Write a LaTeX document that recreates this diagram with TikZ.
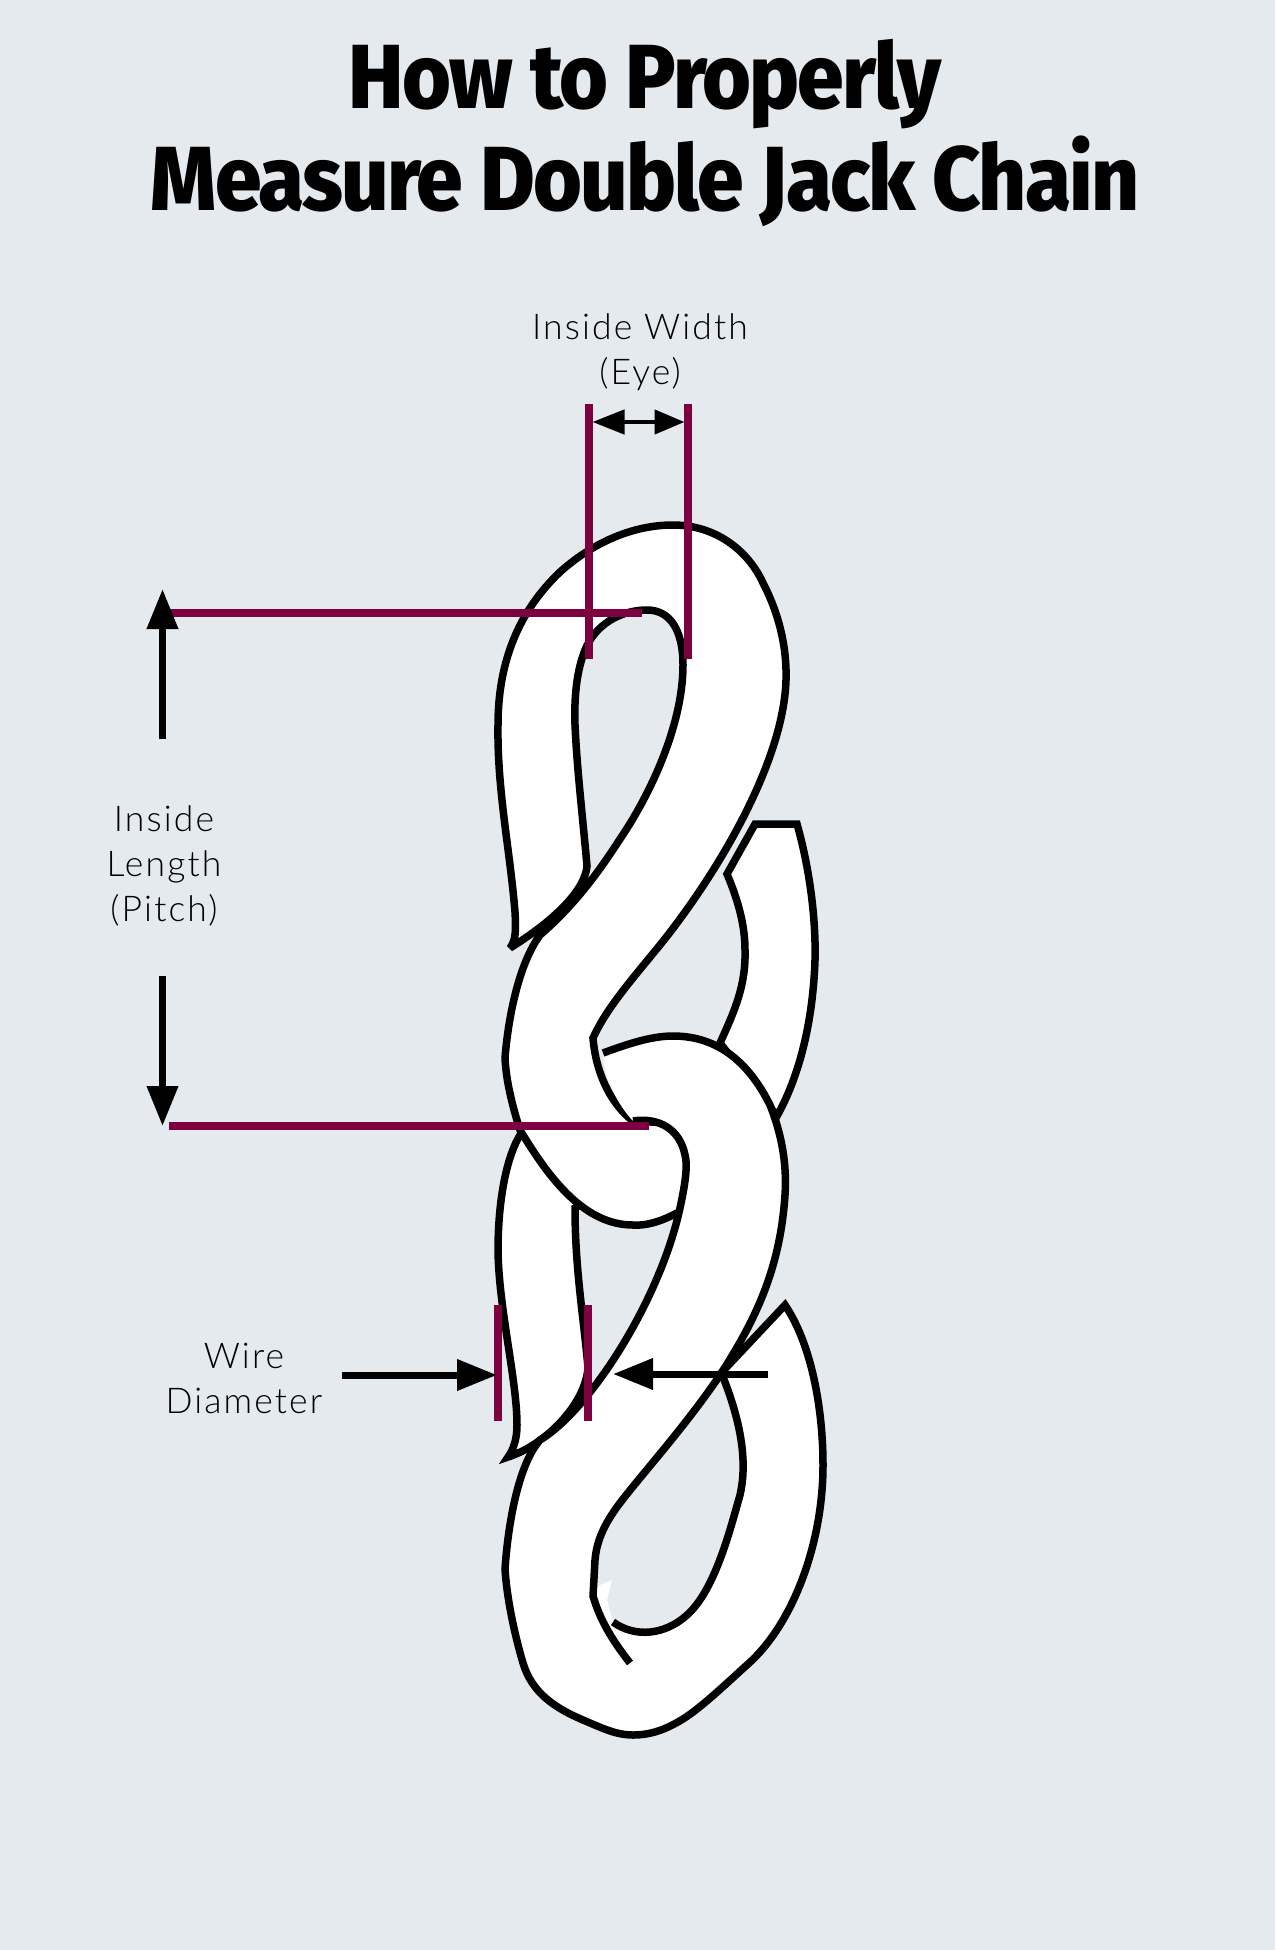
\documentclass[tikz,border=0pt]{standalone}
\usepackage{fontspec}
\usetikzlibrary{arrows.meta}
\setmainfont{Lato}[UprightFont={* Light}]
\newfontfamily\titlefont{Fira Sans}[UprightFont={* ExtraBold},FakeStretch=0.92,LetterSpace=-2]
\definecolor{bgc}{HTML}{E5EAEF}
\definecolor{maroon}{HTML}{7D0040}
\tikzset{
  chain/.style={draw=black,line width=7.5pt,fill=white,line join=miter,miter limit=4},
  chainline/.style={draw=black,line width=7.5pt,line join=miter},
  mark line/.style={draw=maroon,line width=7.5pt},
  big arrow/.style={draw=black,line width=7pt,-{Triangle[length=40pt,width=30pt]}},
  both arrow/.style={draw=black,line width=4.5pt,{Triangle[length=32pt,width=24pt]}-{Triangle[length=30pt,width=24pt]}},
  label text/.style={align=center,font=\fontsize{35.5}{45}\selectfont\addfontfeature{LetterSpace=6},inner sep=0pt},
  title text/.style={align=center,font=\titlefont\fontsize{91}{102}\selectfont,inner sep=0pt}
}
% outlines of the second full link
\def\linkouter{(603,1053) .. controls (625,1045) and (650,1036) .. (673,1036)
  .. controls (720,1036) and (750,1065) .. (770,1105)
  .. controls (782,1135) and (787,1165) .. (785,1195)
  .. controls (780,1270) and (755,1320) .. (722,1372)
  .. controls (690,1420) and (650,1465) .. (627,1494)
  .. controls (610,1515) and (597,1535) .. (595,1560) -- (593,1596)}
\def\linkinner{(613,1622) .. controls (635,1638) and (665,1635) .. (687,1615)
  .. controls (715,1590) and (730,1530) .. (740,1495)
  .. controls (748,1460) and (740,1420) .. (723,1377) -- (722,1372) -- (785,1305)
  .. controls (812,1345) and (823,1410) .. (823,1465)
  .. controls (823,1545) and (792,1625) .. (748,1664)
  .. controls (728,1682) and (702,1707) .. (683,1719)
  .. controls (665,1730) and (650,1735) .. (633,1735)
  .. controls (615,1735) and (600,1727) .. (583,1720)
  .. controls (555,1708) and (532,1693) .. (523,1663)
  .. controls (515,1636) and (507,1600) .. (505,1569)
  .. controls (508,1525) and (518,1465) .. (540,1440)
  .. controls (590,1410) and (660,1300) .. (680,1208)
  .. controls (685,1185) and (688,1165) .. (685,1155)
  .. controls (680,1130) and (660,1117) .. (633,1121)}
\begin{document}
\begin{tikzpicture}[x=1pt,y=-1pt]
\path[fill=bgc] (0,0) rectangle (1275,1950);
\useasboundingbox (0,0) rectangle (1275,1950);

% title
\node[title text] (title) at (645,133) {How to Properly\\Measure Double Jack Chain};

% back piece of the middle link, right side
\draw[chain] (727,874) -- (755,824) -- (797,824)
  .. controls (810,870) and (816,920) .. (815,960)
  .. controls (813,1020) and (800,1075) .. (777,1116)
  -- (720,1043)
  .. controls (735,1010) and (746,985) .. (745,950)
  .. controls (745,925) and (738,900) .. (727,874) -- cycle;

% back piece of the next link, left side
\draw[chain] (520,1135) .. controls (505,1160) and (498,1205) .. (498,1251)
  .. controls (499,1310) and (517,1380) .. (517,1425)
  .. controls (517,1440) and (513,1450) .. (508,1457)
  .. controls (545,1445) and (585,1405) .. (588,1368)
  .. controls (584,1320) and (575,1270) .. (575,1208)
  -- (640,1170) -- cycle;

% first link
\draw[chain] (510,948) .. controls (516,940) and (516,930) .. (515,912)
  .. controls (510,850) and (497,790) .. (498,725)
  .. controls (498,660) and (520,610) .. (560,572)
  .. controls (590,545) and (630,525) .. (673,525)
  .. controls (715,525) and (748,550) .. (763,583)
  .. controls (778,612) and (787,645) .. (786,680)
  .. controls (784,750) and (735,845) .. (677,923)
  .. controls (650,960) and (610,1000) .. (593,1038)
  .. controls (596,1075) and (612,1105) .. (633,1121)
  -- (705,1125) -- (705,1205) -- (677,1213)
  .. controls (660,1222) and (645,1226) .. (633,1225)
  .. controls (585,1225) and (550,1180) .. (520,1130)
  .. controls (512,1105) and (506,1080) .. (505,1058)
  .. controls (508,1020) and (518,965) .. (540,935)
  .. controls (575,905) and (600,870) .. (620,839)
  .. controls (650,795) and (683,725) .. (683,665)
  .. controls (683,630) and (670,610) .. (647,610)
  .. controls (620,610) and (595,625) .. (585,650)
  .. controls (577,670) and (574,695) .. (575,725)
  .. controls (577,770) and (583,820) .. (587,866)
  .. controls (585,890) and (555,920) .. (510,948) -- cycle;

% second link: fill, then outline
\fill[white] \linkouter -- (598,1586) -- (612,1580) -- (607,1600) -- \linkinner
  .. controls (619,1106) and (604,1080) .. (603,1053) -- cycle;
\draw[chainline] \linkouter .. controls (600,1620) and (612,1640) .. (630,1663);
\draw[chainline] \linkinner;

% measuring marks
\coordinate (wl) at (589,404); \coordinate (wlb) at (589,659);
\coordinate (wr) at (688,404); \coordinate (wrb) at (688,659);
\coordinate (pa) at (169,613); \coordinate (pab) at (642,613);
\coordinate (pb) at (169,1126); \coordinate (pbb) at (649,1126);
\coordinate (dl) at (498,1305); \coordinate (dlb) at (498,1421);
\coordinate (dr) at (588,1305); \coordinate (drb) at (588,1421);
\draw[mark line] (pa) -- (pab);
\draw[mark line] (pb) -- (pbb);
\draw[mark line] (wl) -- (wlb);
\draw[mark line] (wr) -- (wrb);
\draw[mark line] (dl) -- (dlb);
\draw[mark line] (dr) -- (drb);

% arrows
\coordinate (aw1) at (592.5,422); \coordinate (aw2) at (684.5,422);
\draw[both arrow] (aw1) -- (aw2);
\coordinate (au1) at (162.5,739); \coordinate (au2) at (162.5,589);
\draw[big arrow] (au1) -- (au2);
\coordinate (ad1) at (162.5,976); \coordinate (ad2) at (162.5,1126);
\draw[big arrow] (ad1) -- (ad2);
\coordinate (al1) at (342,1375); \coordinate (al2) at (497,1375);
\draw[big arrow] (al1) -- (al2);
\coordinate (ar1) at (768,1374); \coordinate (ar2) at (613,1374);
\draw[big arrow] (ar1) -- (ar2);

% labels
\node[label text] (eye) at (640,352) {Inside Width\\(Eye)};
\node[label text] (pitch) at (164,866) {Inside\\Length\\(Pitch)};
\node[label text] (wire) at (244,1378) {Wire\\Diameter};
\end{tikzpicture}
\end{document}
